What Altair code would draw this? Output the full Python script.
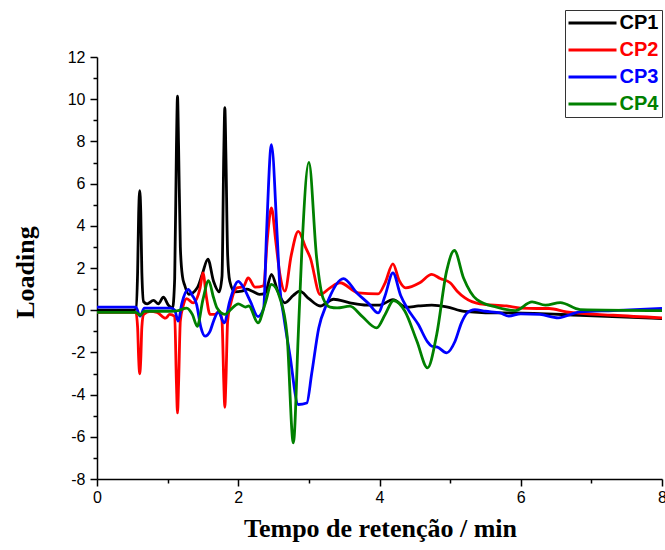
import altair as alt
import pandas as pd

# ---- data ----
series_names = ["CP1", "CP2", "CP3", "CP4"]
series_colors = ["#000000", "#ff0000", "#0000ff", "#008000"]

cp1_x = [0.0, 0.50, 0.55, 0.575, 0.59, 0.605, 0.62, 0.635, 0.66, 0.71, 0.80, 0.87, 0.94,
         1.01, 1.07, 1.10, 1.125, 1.14, 1.155, 1.18, 1.21, 1.24, 1.30, 1.42, 1.49, 1.57,
         1.65, 1.73, 1.77, 1.795, 1.81, 1.825, 1.85, 1.88, 1.95, 2.05, 2.12, 2.20, 2.30,
         2.38, 2.47, 2.56, 2.66, 2.78, 2.87, 3.00, 3.16, 3.35, 3.58, 3.82, 4.00, 4.19,
         4.38, 4.55, 4.74, 4.95, 5.20, 5.50, 5.90, 6.84, 8.00]
cp1_y = [0.0, 0.0, 0.05, 1.8, 4.6, 5.67, 4.6, 1.8, 0.4, 0.3, 0.47, 0.3, 0.62,
         0.24, 0.1, 1.5, 7.8, 10.14, 7.8, 3.0, 1.6, 1.2, 0.75, 1.06, 1.7, 2.42,
         1.37, 0.87, 1.6, 7.4, 9.6, 7.4, 2.6, 1.37, 0.87, 0.9, 1.0, 0.9, 0.75,
         0.8, 1.7, 0.9, 0.35, 0.7, 0.9, 0.55, 0.2, 0.52, 0.35, 0.24, 0.24, 0.5,
         0.14, 0.2, 0.24, 0.16, -0.06, -0.12, -0.13, -0.24, -0.4]

cp2_x = [0.0, 0.55, 0.575, 0.59, 0.605, 0.62, 0.635, 0.66, 0.75, 0.85, 0.97, 1.03, 1.10,
         1.125, 1.14, 1.155, 1.18, 1.22, 1.27, 1.36, 1.46, 1.50, 1.55, 1.60, 1.67, 1.73,
         1.77, 1.795, 1.81, 1.825, 1.85, 1.90, 1.98, 2.07, 2.14, 2.24, 2.36, 2.41, 2.47,
         2.53, 2.59, 2.66, 2.75, 2.85, 2.95, 3.02, 3.16, 3.30, 3.44, 3.70, 3.98, 4.08,
         4.19, 4.28, 4.37, 4.57, 4.74, 4.86, 5.00, 5.10, 5.21, 5.42, 5.80, 6.00, 6.23,
         6.40, 6.65, 7.31, 8.00]
cp2_y = [-0.1, -0.1, -0.8, -2.3, -3.02, -2.3, -0.8, -0.2, -0.05, -0.1, -0.38, -0.2, -0.3,
         -3.5, -4.87, -3.5, -0.5, 0.2, 0.55, 0.35, 1.06, 1.77, 0.6, -0.2, -0.2, -0.05,
         -0.5, -3.4, -4.6, -3.4, -0.5, 0.4, 1.06, 1.1, 1.53, 1.09, 1.16, 3.3, 4.85,
         3.3, 1.69, 0.9, 2.6, 3.74, 3.0, 2.48, 0.74, 1.06, 1.3, 0.82, 0.77, 1.3,
         2.2, 1.4, 1.06, 1.3, 1.7, 1.5, 1.3, 0.9, 0.58, 0.3, 0.2, 0.1, 0.08,
         0.08, -0.08, -0.24, -0.36]

cp3_x = [0.0, 0.55, 0.61, 0.67, 1.05, 1.10, 1.15, 1.20, 1.29, 1.35, 1.41, 1.47, 1.53,
         1.60, 1.65, 1.72, 1.80, 1.88, 2.00, 2.07, 2.17, 2.28, 2.36, 2.40, 2.47, 2.55,
         2.59, 2.64, 2.73, 2.85, 2.97, 3.04, 3.14, 3.25, 3.49, 3.68, 3.85, 3.98, 4.08,
         4.19, 4.30, 4.39, 4.55, 4.68, 4.74, 4.82, 4.95, 5.07, 5.16, 5.24, 5.35, 5.50,
         5.71, 5.83, 6.00, 6.27, 6.53, 6.84, 7.31, 8.00]
cp3_y = [0.15, 0.15, -0.28, 0.1, 0.1, 0.0, -0.52, 0.3, 0.98, 0.7, 0.28, -0.8, -1.23,
         -1.0, -0.52, -0.08, -0.6, 0.43, 1.37, 1.1, 0.43, -0.3, 0.1, 3.6, 7.85, 3.6,
         1.06, -0.2, -2.1, -4.47, -4.4, -3.0, -0.84, 0.27, 1.5, 0.82, 0.3, -0.13, 0.7,
         1.77, 0.7, 0.11, -0.68, -1.5, -1.71, -1.75, -2.02, -1.47, -0.6, -0.13, 0.03, -0.05,
         -0.13, -0.28, -0.17, -0.2, -0.36, -0.08, -0.02, 0.08]

cp4_x = [0.0, 0.55, 0.61, 0.67, 1.05, 1.15, 1.27, 1.35, 1.42, 1.50, 1.58, 1.65, 1.70,
         1.81, 1.90, 2.00, 2.10, 2.15, 2.28, 2.38, 2.47, 2.59, 2.69, 2.78, 2.85, 2.90,
         3.00, 3.11, 3.20, 3.30, 3.40, 3.58, 3.75, 3.96, 4.08, 4.20, 4.36, 4.53, 4.68,
         4.81, 4.95, 5.06, 5.19, 5.38, 5.66, 5.92, 6.16, 6.35, 6.56, 6.84, 8.00]
cp4_y = [-0.1, -0.1, -0.24, -0.05, -0.05, -0.02, 0.1, -0.2, -0.76, 0.5, 1.4, 0.6, 0.1,
         -0.2, 0.05, 0.3, 0.15, 0.2, -0.6, 0.3, 1.22, 0.58, -1.15, -6.29, -1.15, 2.8,
         7.0, 2.48, 0.58, 0.15, 0.11, 0.19, -0.28, -0.84, -0.2, 0.46, -0.05, -1.47, -2.73,
         -1.15, 1.85, 2.83, 1.53, 0.5, 0.14, -0.02, 0.39, 0.24, 0.36, 0.03, -0.02]

x_ticks = list(range(0, 9))
y_ticks = list(range(-8, 13))

# ---- table built from the arrays ----
rows = []
for name, xs, ys in zip(series_names, [cp1_x, cp2_x, cp3_x, cp4_x],
                        [cp1_y, cp2_y, cp3_y, cp4_y]):
    for xv, yv in zip(xs, ys):
        rows.append({"t": xv, "v": yv, "s": name})
df = pd.DataFrame(rows)

label_color_expr = ("datum.label == 'CP1' ? '#000000' : datum.label == 'CP2' ? '#ff0000' : "
                    "datum.label == 'CP3' ? '#0000ff' : '#008000'")

minor_tick = {"condition": {"test": "datum.value % 2 !== 0", "value": 4}, "value": 7}

chart = alt.Chart(df).mark_line(strokeWidth=2.8, interpolate="monotone").encode(
    x=alt.X("t:Q",
            scale=alt.Scale(domain=[0, 8], nice=False, zero=False),
            axis=alt.Axis(values=x_ticks,
                          labelExpr="datum.value % 2 === 0 ? '' + datum.value : ''",
                          grid=False, tickSize=minor_tick, tickWidth=1.5,
                          domainWidth=1.5, domainColor="black", tickColor="black",
                          labelFont="Liberation Sans", labelFontSize=16, labelColor="black",
                          labelPadding=3, labelFlush=False,
                          title="Tempo de retenção / min",
                          titleFont="Liberation Serif", titleFontWeight="bold",
                          titleFontSize=26, titleColor="black",
                          titleX=283, titleY=57, titleAlign="center",
                          titleBaseline="alphabetic")),
    y=alt.Y("v:Q",
            scale=alt.Scale(domain=[-8, 12], nice=False, zero=False),
            axis=alt.Axis(values=y_ticks,
                          labelExpr="datum.value % 2 === 0 ? '' + datum.value : ''",
                          grid=False, tickSize=minor_tick, tickWidth=1.5,
                          domainWidth=1.5, domainColor="black", tickColor="black",
                          labelFont="Liberation Sans", labelFontSize=16, labelColor="black",
                          labelPadding=5, labelFlush=False,
                          title="Loading",
                          titleFont="Liberation Serif", titleFontWeight="bold",
                          titleFontSize=26, titleColor="black",
                          titleAngle=270, titleX=-64, titleY=215,
                          titleAlign="center", titleBaseline="alphabetic")),
    color=alt.Color("s:N",
                    scale=alt.Scale(domain=series_names, range=series_colors),
                    legend=alt.Legend(orient="none", legendX=468, legendY=-47,
                                      title=None, symbolType="M-4,0H4",
                                      symbolSize=144, symbolStrokeWidth=3,
                                      symbolOffset=14.5,
                                      labelFont="Liberation Sans", labelFontWeight="bold",
                                      labelFontSize=20,
                                      labelColor=alt.ExprRef(expr=label_color_expr),
                                      labelOffset=17, rowPadding=7, padding=3,
                                      strokeColor="#333333", fillColor="white",
                                      cornerRadius=0)),
).properties(
    width=565, height=422,
    padding={"left": 97, "top": 57, "right": 3, "bottom": 71},
    autosize=alt.AutoSizeParams(type="none"),
    background="white",
).configure_view(stroke=None)

chart.save("out.html", embed_options={"renderer": "svg", "actions": False})
